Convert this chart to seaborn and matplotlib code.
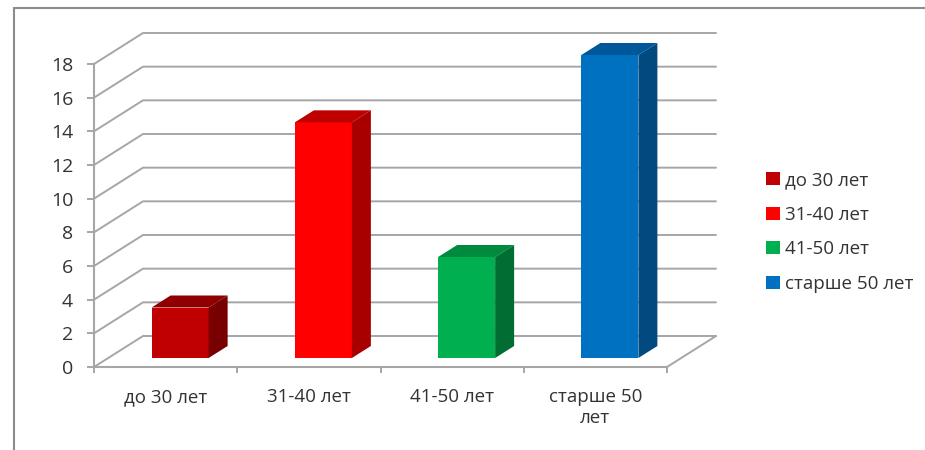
import matplotlib
matplotlib.use('Agg')
import matplotlib.pyplot as plt
from matplotlib.lines import Line2D
from matplotlib.patches import Patch
import seaborn as sns
import pandas as pd

# data
groups = ['до 30 лет', '31-40 лет', '41-50 лет', 'старше 50 лет']
tick_names = ['до 30 лет', '31-40 лет', '41-50 лет', 'старше 50\nлет']
counts = [3, 14, 6, 18]

front_colors = ['#C00000', '#FF0000', '#00B050', '#0070C0']
top_colors = ['#900000', '#BF0000', '#008A3E', '#00579A']
side_colors = ['#780000', '#A80000', '#006E32', '#004A80']
grid_color = '#A6A6A6'
text_color = '#333333'

sns.set_style('white')
plt.rcParams['font.family'] = ['Open Sans', 'DejaVu Sans']

W, H = 925, 450
fig = plt.figure(figsize=(W / 100, H / 100), dpi=100)
ax = fig.add_axes([94 / W, (H - 367) / H, (667 - 94) / W, (367 - 64) / H])

# fake 3d, everything converted from pixels to data units
px_x = 4 / (667 - 94)
px_y = 18 / (367 - 64)

df = pd.DataFrame({'group': groups, 'count': counts})
sns.barplot(data=df, x='group', y='count', hue='group', palette=front_colors,
            width=57 * px_x, bottom=9 * px_y, saturation=1, legend=False,
            linewidth=0, ax=ax, zorder=3)

ax.set_xlim(-0.5, 3.5)
ax.set_ylim(0, 18)

# back wall and floor lines
wall_x = 49 * px_x
wall_y = 31 * px_y
for v in range(0, 20, 2):
    ax.plot([-0.5, -0.5 + wall_x, 3.5 + wall_x], [v, v + wall_y, v + wall_y],
            color=grid_color, lw=1.4, clip_on=False, zorder=1)
ax.plot([3.5, 3.5 + wall_x], [0, wall_y], color=grid_color, lw=1.4,
        clip_on=False, zorder=1)

# shift front faces onto the floor, add top and side faces
depth_x = 19 * px_x
depth_y = 12 * px_y
for bar, top_c, side_c in zip(ax.patches, top_colors, side_colors):
    bar.set_x(bar.get_x() + 14.5 * px_x)
    bar.set_clip_on(False)
    x0 = bar.get_x()
    x1 = x0 + bar.get_width()
    y0 = bar.get_y()
    y1 = y0 + bar.get_height()
    ax.fill([x0, x1, x1 + depth_x, x0 + depth_x],
            [y1, y1, y1 + depth_y, y1 + depth_y],
            color=top_c, lw=0, clip_on=False, zorder=3)
    ax.fill([x1, x1 + depth_x, x1 + depth_x, x1],
            [y0, y0 + depth_y, y1 + depth_y, y1],
            color=side_c, lw=0, clip_on=False, zorder=3)

sns.despine(ax=ax)
for s in ['left', 'bottom']:
    ax.spines[s].set_color(grid_color)
    ax.spines[s].set_linewidth(1.5)

ax.set_xlabel('')
ax.set_ylabel('')
ax.set_yticks(range(0, 20, 2))
ax.set_xticks(range(4))
ax.set_xticklabels(tick_names, linespacing=1.25)
ax.set_xticks([-0.5, 0.5, 1.5, 2.5, 3.5], minor=True)
ax.tick_params(axis='y', left=True, length=5, width=1.4, color=grid_color,
               labelsize=14, labelcolor=text_color, pad=10)
ax.tick_params(axis='x', which='major', bottom=False, length=0,
               labelsize=13.5, labelcolor=text_color, pad=15)
ax.tick_params(axis='x', which='minor', bottom=True, length=4, width=1.4,
               color=grid_color)

handles = [Patch(color=c, lw=0) for c in front_colors]
ax.legend(handles, groups, loc='center left', bbox_to_anchor=(766 / W, (H - 232) / H),
          bbox_transform=fig.transFigure, frameon=False, fontsize=13.5,
          labelcolor=text_color, handlelength=0.72, handleheight=0.72,
          handletextpad=0.3, labelspacing=0.88, borderpad=0, borderaxespad=0)

# outer frame, only top and left visible in the crop
fig.add_artist(Line2D([13.5 / W, 1], [(H - 7.5) / H] * 2, color='#8C8C8C', lw=1.5))
fig.add_artist(Line2D([13.5 / W] * 2, [0, (H - 7.5) / H], color='#8C8C8C', lw=1.5))

fig.savefig('out.png', dpi=100)
